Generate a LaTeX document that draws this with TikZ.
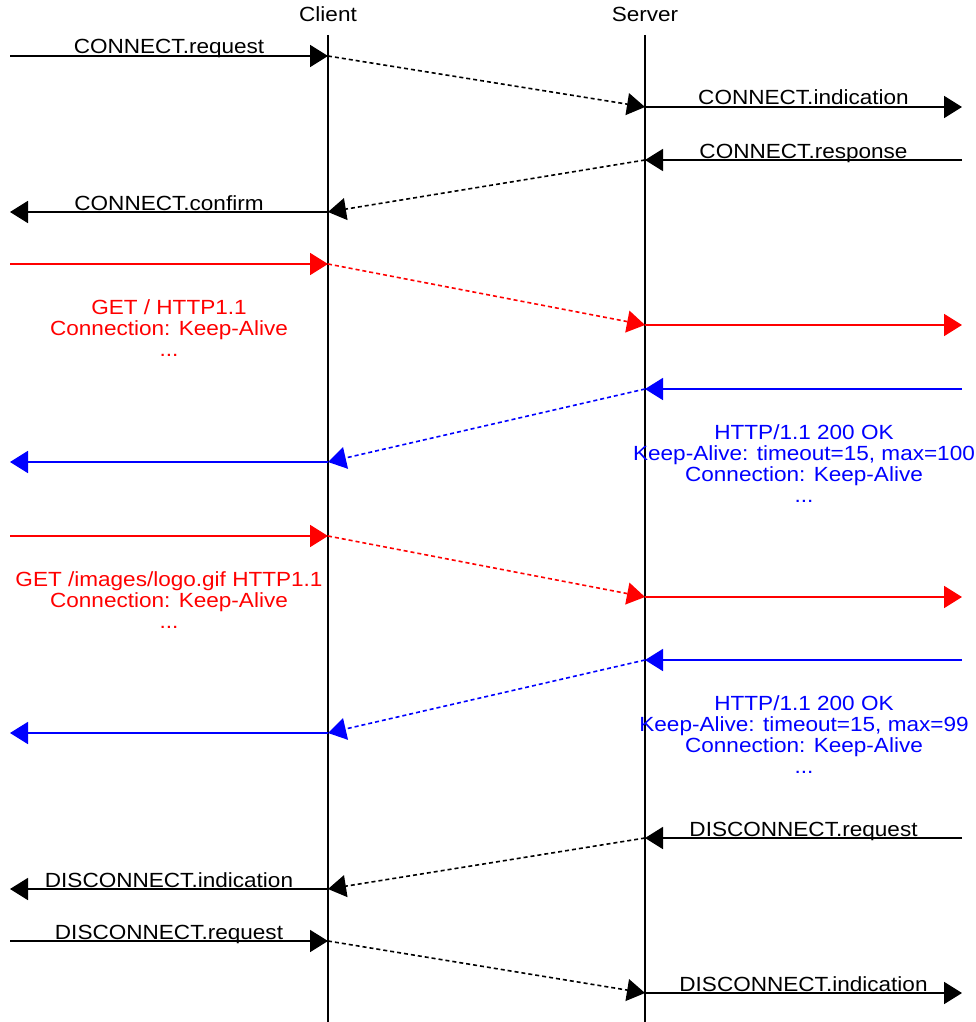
\documentclass[tikz,border=0pt]{standalone}
\usepackage{fontspec}
\setmainfont{Liberation Sans}[FakeStretch=1.1]
\usepackage{tikz}
\usetikzlibrary{arrows.meta}
\definecolor{msgR}{HTML}{FF0000}
\definecolor{msgB}{HTML}{0000FF}
\tikzset{
  msg/.style={line width=1.8pt,-{Triangle[length=18pt,width=22pt]}},
  relay/.style={msg,line width=1.6pt,dash pattern=on 4pt off 3pt},
  life/.style={line width=2pt},
  lbl/.style={anchor=base,inner sep=0pt,yshift=2pt,font=\fontsize{20.5}{21}\selectfont},
  txt/.style={align=center,anchor=base,inner sep=0pt,font=\fontsize{20.5}{21}\selectfont}
}

\begin{document}
\begin{tikzpicture}[x=1pt,y=-1pt]
\useasboundingbox (0,0) rectangle (976,1022);
\def\cx{328}\def\sx{645}
% lifelines
\node[lbl,yshift=0pt] (cli) at (\cx,24) {Client};
\node[lbl,yshift=0pt] (srv) at (\sx,24) {Server};
\coordinate (cliTop) at (\cx,35);\coordinate (cliBot) at (\cx,1022);
\coordinate (srvTop) at (\sx,35);\coordinate (srvBot) at (\sx,1022);
\draw[life](cliTop)--(cliBot);\draw[life](srvTop)--(srvBot);
% message levels: L=left end, C=client, S=server, R=right end
\foreach \n/\y in {1/56,2/107,3/160,4/212,5/264,6/325,7/389,8/462,9/536,10/597,11/660,12/733,13/838,14/889,15/941,16/993}{
  \coordinate (L\n) at (10,\y);\coordinate (C\n) at (\cx,\y);
  \coordinate (S\n) at (\sx,\y);\coordinate (R\n) at (962,\y);
}
% connect
\draw[msg](L1)--node[lbl]{CONNECT.request}(C1);\draw[relay](C1)--(S2);
\draw[msg](S2)--node[lbl]{CONNECT.indication}(R2);
\draw[msg](R3)--node[lbl]{CONNECT.response}(S3);\draw[relay](S3)--(C4);
\draw[msg](C4)--node[lbl]{CONNECT.confirm}(L4);
% first request / response (base = last line)
\draw[msg,msgR](L5)--(C5);\draw[relay,msgR](C5)--(S6);\draw[msg,msgR](S6)--(R6);
\node[txt,msgR] (get1) at (169,356) {GET / HTTP1.1\\Connection: Keep-Alive\\...};
\draw[msg,msgB](R7)--(S7);\draw[relay,msgB](S7)--(C8);\draw[msg,msgB](C8)--(L8);
\node[txt,msgB] (ok1) at (804,502) {HTTP/1.1 200 OK\\Keep-Alive: timeout=15, max=100\\Connection: Keep-Alive\\...};
% second request / response
\draw[msg,msgR](L9)--(C9);\draw[relay,msgR](C9)--(S10);\draw[msg,msgR](S10)--(R10);
\node[txt,msgR] (get2) at (169,628) {GET /images/logo.gif HTTP1.1\\Connection: Keep-Alive\\...};
\draw[msg,msgB](R11)--(S11);\draw[relay,msgB](S11)--(C12);\draw[msg,msgB](C12)--(L12);
\node[txt,msgB] (ok2) at (804,773) {HTTP/1.1 200 OK\\Keep-Alive: timeout=15, max=99\\Connection: Keep-Alive\\...};
% disconnect
\draw[msg](R13)--node[lbl]{DISCONNECT.request}(S13);\draw[relay](S13)--(C14);
\draw[msg](C14)--node[lbl]{DISCONNECT.indication}(L14);
\draw[msg](L15)--node[lbl]{DISCONNECT.request}(C15);\draw[relay](C15)--(S16);
\draw[msg](S16)--node[lbl]{DISCONNECT.indication}(R16);
\end{tikzpicture}
\end{document}
